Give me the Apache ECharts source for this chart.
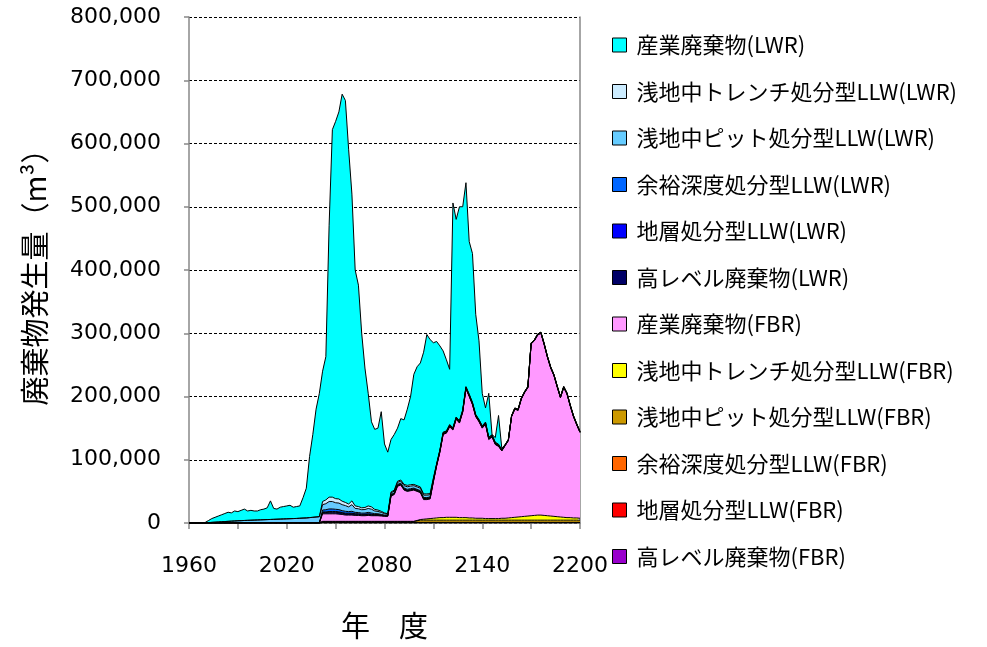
<!DOCTYPE html>
<html>
<head>
<meta charset="utf-8">
<script src="https://cdn.jsdelivr.net/npm/echarts@6/dist/echarts.min.js"></script>
<style>
html,body{margin:0;padding:0;background:#fff;}
#chart{width:987px;height:647px;}
</style>
</head>
<body>
<div id="chart"></div>
<script>
// Years (2-year steps) 1960..2200
const years = [];
for (let y = 1960; y <= 2200; y += 2) years.push(String(y));

// Tick labels of the y axis (thousand m3)
const yTicks = [0, 100, 200, 300, 400, 500, 600, 700, 800];

// Series names (legend order, top to bottom)
const legendNames = [
  '産業廃棄物(LWR)', '浅地中トレンチ処分型LLW(LWR)', '浅地中ピット処分型LLW(LWR)',
  '余裕深度処分型LLW(LWR)', '地層処分型LLW(LWR)', '高レベル廃棄物(LWR)',
  '産業廃棄物(FBR)', '浅地中トレンチ処分型LLW(FBR)', '浅地中ピット処分型LLW(FBR)',
  '余裕深度処分型LLW(FBR)', '地層処分型LLW(FBR)', '高レベル廃棄物(FBR)'
];

// Values in thousand m3, one per category (stack bottom to top)
const hlwFBR = [
0,0,0,0,0,0,0,0,0,0, 0,0,0,0,0,0,0,0,0,0, 0,0,0,0,0,0,0,0,0,0, 0,0,0,0,0,0,0,0,0,0, 0,
0.3,0.3,0.3,0.3,0.3,0.3,0.3,0.3,0.3,0.3, 0.3,0.3,0.3,0.3,0.3,0.3,0.3,0.3,0.3,0.3,
0.3,0.3,0.3,0.3,0.3,0.3,0.3,0.3,0.3,0.3, 0.3,0.3,0.3,0.3,0.3,0.3,0.3,0.3,0.3,0.3,
0.3,0.3,0.3,0.3,0.3,0.3,0.3,0.3,0.3,0.3, 0.3,0.3,0.3,0.3,0.3,0.3,0.3,0.3,0.3,0.3,
0.3,0.3,0.3,0.3,0.3,0.3,0.3,0.3,0.3,0.3, 0.3,0.3,0.3,0.3,0.3,0.3,0.3,0.3,0.3,0.3
];
const geoFBR = [
0,0,0,0,0,0,0,0,0,0, 0,0,0,0,0,0,0,0,0,0, 0,0,0,0,0,0,0,0,0,0, 0,0,0,0,0,0,0,0,0,0, 0,
0.2,0.2,0.2,0.2,0.2,0.2,0.2,0.2,0.2,0.2, 0.2,0.2,0.2,0.2,0.2,0.2,0.2,0.2,0.2,0.2,
0.2,0.2,0.2,0.2,0.2,0.2,0.2,0.2,0.2,0.2, 0.2,0.2,0.2,0.2,0.2,0.2,0.2,0.2,0.2,0.2,
0.2,0.2,0.2,0.2,0.2,0.2,0.2,0.2,0.2,0.2, 0.2,0.2,0.2,0.2,0.2,0.2,0.2,0.2,0.2,0.2,
0.2,0.2,0.2,0.2,0.2,0.2,0.2,0.2,0.2,0.2, 0.2,0.2,0.2,0.2,0.2,0.2,0.2,0.2,0.2,0.2
];
const ifdFBR = [
0,0,0,0,0,0,0,0,0,0, 0,0,0,0,0,0,0,0,0,0, 0,0,0,0,0,0,0,0,0,0, 0,0,0,0,0,0,0,0,0,0, 0,
0.5,0.5,0.5,0.5,0.5,0.5,0.5,0.5,0.5,0.5, 0.5,0.5,0.5,0.5,0.5,0.5,0.5,0.5,0.5,0.5,
0.5,0.5,0.5,0.5,0.5,0.5,0.5,0.5,0.5,0.5, 0.5,0.5,0.5,0.5,0.5,0.5,0.5,0.5,0.5,0.5,
0.5,0.5,0.5,0.5,0.5,0.5,0.5,0.5,0.5,0.5, 0.5,0.5,0.5,0.5,0.5,0.5,0.5,0.5,0.5,0.5,
0.5,0.5,0.5,0.5,0.5,0.5,0.5,0.5,0.5,0.5, 0.5,0.5,0.5,0.5,0.5,0.5,0.5,0.5,0.5,0.5
];
const pitFBR = [
0,0,0,0,0,0,0,0,0,0, 0,0,0,0,0,0,0,0,0,0, 0,0,0,0,0,0,0,0,0,0, 0,0,0,0,0,0,0,0,0,0, 0,
1.5,1.5,1.5,1.5,1.5,1.5,1.5,1.5,1.5,1.5, 1.5,1.5,1.5,1.5,1.5,1.5,1.5,1.5,1.5,1.5,
1.5,1.5,1.5,1.5,1.5,1.5,1.5,1.5,1.5,
2.5,
3.5,3.5,3.5,3.5,3.5,3.5,3.5,3.5,3.5,3.5, 3.5,3.5,3.5,3.5,3.5,3.5,3.5,3.5,3.5,3.5,
3.5,3.5,3.5,3.5,3.5,3.5,3.5,3.5,3.5,3.5, 3.5,3.5,3.5,3.5,3.5,3.5,3.5,3.5,3.5,3.5,
3.5,3.5,3.5,3.5,3.5,3.5,3.5,3.5,3.5,3.5
];
const trenchFBR = [
0,0,0,0,0,0,0,0,0,0, 0,0,0,0,0,0,0,0,0,0, 0,0,0,0,0,0,0,0,0,0, 0,0,0,0,0,0,0,0,0,0,
0,0,0,0,0,0,0,0,0,0, 0,0,0,0,0,0,0,0,0,0, 0,0,0,0,0,0,0,0,0,0,
0.5,1,1.5,2,2.5,3,3.5,4,4,4.5, 4.5,4.5,4.5,4,4,4,3.5,3.5,3,3,
3,2.5,2.5,2.5,2.5,2.5,3,3,3.5,4, 4.5,5,5.5,6,6.5,7,7.5,8,8,7.5,
7,6.5,6,5.5,5,4.5,4,4,3.5,3.5, 3
];
const indFBR = [
0,0,0,0,0,0,0,0,0,0, 0,0,0,0,0,0,0,0,0,0, 0,0,0,0,0,0,0,0,0,0, 0,0,0,0,0,0,0,0,0,0, 0,
12,12,12,12,12,11.5,11,10,10,10, 9.5,9.5,9,9,9.5,9,9,9,8.5,8, 8,
40,42.5,55.5,57.5,49.5,47.5,48.5,49.5,46,42.5, 31,30.5,31,57.5,
82,103.5,131.5,133,143,138,155,149.5,166.5,203.5, 192,179,160.5,152.5,142.5,149,125,129,117,114,
106.5,114.5,122,159.5,171,168.5,186,195.5,203,271.5, 276,284.5,287.5,270,250.5,234,222.5,205,188.5,205,
195.5,176.5,160,147,135.5
];
const hlwLWR = [
0,0,0,0,0,0,0,0,0,0, 0,0,0,0,0,0,0,0,0,0, 0,0,0,0,0,0,0,0,0,0, 0,0,0,0,0,0,0,0,0,0, 0,
2,2,2.5,2.5,2.5,2.5,2,2,2,2, 1.8,1.8,1.5,1.5,1.8,1.5,1.2,1.2,1,0.8, 0.6,
1,1,1.2,1.2,1.2,1.2,1.2,1.2,1.2,1.2, 1.2,1.2,1.2,1,
0.8,0.8,0.8,0.8,0.8,0.8,0.8,0.8,0.8,0.8, 0.8,0.8,0.8,0.8,0.8,0.8,0.8,0.8,0.8,0.8,
0.4,0.4,0.4,0.4,0.4,0.4,0.4,0.4,0.4,0.4, 0.4,0.4,0.4,0.4,0.4,0.4,0.4,0.4,0.4,0.4, 0.4,0.4,0.4,0.4,0.4
];
const geoLWR = [
0,0,0,0,0,0,0,0,0,0, 0,0,0,0,0,0,0,0,0,0, 0,0,0,0,0,0,0,0,0,0, 0,0,0,0,0,0,0,0,0,0, 0,
1,1,1.2,1.2,1.2,1.2,1,1,1,1, 0.8,0.8,0.8,0.8,0.8,0.8,0.6,0.6,0.5,0.4, 0.3,
0.6,0.6,0.6,0.6,0.6,0.6,0.6,0.6,0.6,0.6, 0.6,0.6,0.6,0.6,
0.4,0.4,0.4,0.4,0.4,0.4,0.4,0.4,0.4,0.4, 0.4,0.4,0.4,0.4,0.4,0.4,0.4,0.4,0.4,0.4,
0.2,0.2,0.2,0.2,0.2,0.2,0.2,0.2,0.2,0.2, 0.2,0.2,0.2,0.2,0.2,0.2,0.2,0.2,0.2,0.2, 0.2,0.2,0.2,0.2,0.2
];
const ifdLWR = [
0,0,0,0,0,0,0,0,0,0, 0,0,0,0,0,0,0,0,0,0, 0,0,0,0,0,0,0,0,0,0, 0,0,0,0,0,0,0,0,0,0, 0,
3,3.5,4,4,3.5,3.5,3,3,2.5,3, 2.2,2,1.8,1.9,2.2,2,1.5,1.3,1.1,0.8, 0.6,
1,1,1.2,1.2,1.4,1.5,1.5,1.4,1.4,1.4, 1.4,1.4,1.3,0.9,
0.7,0.7,0.7,0.7,0.7,0.7,0.7,0.7,0.7,0.7, 0.7,0.7,0.7,0.7,0.7,0.7,0.7,0.7,0.7,0.7,
0.3,0.3,0.3,0.3,0.3,0.3,0.3,0.3,0.3,0.3, 0.3,0.3,0.3,0.3,0.3,0.3,0.3,0.3,0.3,0.3, 0.3,0.3,0.3,0.3,0.3
];
const pitLWR = [
0,0,0,0,0,
0.3,0.6,1,1.3,1.6,2,2.3,2.6,2.9,3.2, 3.5,3.7,4,4.2,4.4,4.6,4.8,5,5.2,5.4,
5.6,5.8,6,6.2,6.4,6.6,6.8,7,7.2,7.5, 7.8,8,8.5,9,9.5,10,
8.5,9.5,11.7,11.7,10.3,10.3,9.5,9,7.5,10.5, 6.2,5.9,5.4,5.6,6.2,6,4.2,3.7,3.1,2.3, 1.7,
2.4,2.9,3.2,3.2,3.8,4,4,3.8,3.8,3.8, 3.8,3.8,3.6,2.3,
1.2,1.2,1.2,1.2,1.2,1.2,1.2,1.2,1.2,1.2, 1.2,1.2,1.2,1.2,1.2,1.2,1.2,1.2,1.2,1.2,
0.6,0.6,0.6,0.6,0.6,0.6,0.6,0.6,0.6,0.6, 0.6,0.6,0.6,0.6,0.6,0.6,0.6,0.6,0.6,0.6, 0.6,0.6,0.6,0.6,0.6
];
const trenchLWR = [
0,0,0,0,0,0,0,0,0,0, 0,0,0,0,0,0,0,0,0,0, 0,0,0,0,0,0,0,0,0,0, 0,0,0,0,0,0,0,0,0,0, 0,
5,6,7,7,6.5,6.5,5.5,5,4.5,6, 4,3.5,3,3.2,4,3.7,2.5,2.2,1.8,1.2, 0.8,
1.5,1.5,1.8,1.8,2,2.2,2.2,2,2,2, 2,2,1.8,1.2,
0.5,0.5,0.5,0.5,0.5,0.5,0.5,0.5,0.5,0.5, 0.5,0.5,0.5,0.5,0.5,0.5,0.5,0.5,0.5,0.5,
0.3,0.3,0.3,0.3,0.3,0.3,0.3,0.3,0.3,0.3, 0.3,0.3,0.3,0.3,0.3,0.3,0.3,0.3,0.3,0.3, 0.3,0.3,0.3,0.3,0.3
];
const indLWR = [
0,0,0,0,0,
0.7,3.4,6,7.7,9.4,11,12.7,14.4,13.1,15.8, 14.5,16.3,18,14.8,15.6,14.4,14.2,16,16.8,18.6,
29.4,17.2,16,18.8,19.6,20.4,21.2,18,18.8,19.5, 32.2,47,96.5,131,170.5,195,
206,226.5,429,581,596.5,612,643.5,635.5,560,485, 373,350,276,220.5,178,134.5,126.5,129.5,157.5,109, 97.5,
83,88,84,97,102,120.5,139.5,174,188,196, 224,252,243.5,214,
193.4,164.4,128.4,112.4,87.4,355.4,312.4,338.4,321.4,322.4, 241.4,235.4,158.4,124.4,51.4,22.4,69.4,0.5,7.4,45.4,
2.2,0,0,0,0,0,0,0,0,0, 0,0,0,0,0,0,0,0,0,0, 0,0,0,0,0
];

// stack order bottom -> top
const stackOrder = [
  { name: '高レベル廃棄物(FBR)', data: hlwFBR, color: '#9900CC' },
  { name: '地層処分型LLW(FBR)', data: geoFBR, color: '#FF0000' },
  { name: '余裕深度処分型LLW(FBR)', data: ifdFBR, color: '#FF6600' },
  { name: '浅地中ピット処分型LLW(FBR)', data: pitFBR, color: '#CC9900' },
  { name: '浅地中トレンチ処分型LLW(FBR)', data: trenchFBR, color: '#FFFF00' },
  { name: '産業廃棄物(FBR)', data: indFBR, color: '#FF99FF' },
  { name: '高レベル廃棄物(LWR)', data: hlwLWR, color: '#000066' },
  { name: '地層処分型LLW(LWR)', data: geoLWR, color: '#0000FF' },
  { name: '余裕深度処分型LLW(LWR)', data: ifdLWR, color: '#0066FF' },
  { name: '浅地中ピット処分型LLW(LWR)', data: pitLWR, color: '#66CCFF' },
  { name: '浅地中トレンチ処分型LLW(LWR)', data: trenchLWR, color: '#CCECFF' },
  { name: '産業廃棄物(LWR)', data: indLWR, color: '#00FFFF' }
];

const chart = echarts.init(document.getElementById('chart'), null, { renderer: 'canvas' });
const numFont = 'DejaVu Sans';
const jpFont = '"Noto Sans CJK JP"';

chart.setOption({
  animation: false,
  backgroundColor: '#ffffff',
  grid: { left: 189, right: 407, top: 17, bottom: 124, containLabel: false },
  legend: {
    orient: 'vertical',
    left: 607,
    top: 29,
    data: legendNames,
    icon: 'rect',
    itemWidth: 14,
    itemHeight: 14,
    itemGap: 24.5,
    selectedMode: false,
    itemStyle: { borderColor: '#000', borderWidth: 1 },
    textStyle: { fontFamily: jpFont, fontSize: 22, lineHeight: 22, color: '#000', padding: [0, 0, 0, 5] }
  },
  xAxis: {
    type: 'category',
    data: years,
    boundaryGap: false,
    name: '年　度',
    nameLocation: 'middle',
    nameGap: 88,
    nameTextStyle: { fontFamily: jpFont, fontSize: 29, color: '#000' },
    axisLine: { show: true, onZero: true, lineStyle: { color: '#888', width: 1.5 } },
    axisTick: { show: true, interval: 14, length: 6, lineStyle: { color: '#888', width: 1.5 } },
    axisLabel: { interval: 29, margin: 32, fontFamily: numFont, fontSize: 22, color: '#000' },
    splitLine: { show: false }
  },
  yAxis: [{
    type: 'value',
    min: yTicks[0],
    max: yTicks[yTicks.length - 1],
    interval: 100,
    name: '廃棄物発生量（m³）',
    nameLocation: 'middle',
    nameRotate: 90,
    nameGap: 140,
    nameTextStyle: { fontFamily: jpFont, fontSize: 29, color: '#000' },
    axisLine: { show: true, lineStyle: { color: '#888', width: 1.5 } },
    axisTick: { show: true, length: 5, lineStyle: { color: '#888', width: 1.5 } },
    axisLabel: {
      margin: 28, fontFamily: numFont, fontSize: 22, color: '#000',
      formatter: v => (v === 0 ? '0' : v + ',000')
    },
    splitLine: { show: true, lineStyle: { color: '#000', type: [3, 2], width: 1 } }
  }, {
    type: 'value',
    position: 'right',
    min: yTicks[0],
    max: yTicks[yTicks.length - 1],
    interval: 100,
    axisLine: { show: true, lineStyle: { color: '#888', width: 1.5 } },
    axisTick: { show: false },
    axisLabel: { show: false },
    splitLine: { show: false }
  }],
  series: stackOrder.map(s => ({
    name: s.name,
    type: 'line',
    stack: 'total',
    data: s.data,
    symbol: 'none',
    showSymbol: false,
    silent: true,
    lineStyle: { color: '#000', width: 1 },
    itemStyle: { color: s.color },
    areaStyle: { color: s.color, opacity: 1 },
    emphasis: { disabled: true }
  }))
});
</script>
</body>
</html>
